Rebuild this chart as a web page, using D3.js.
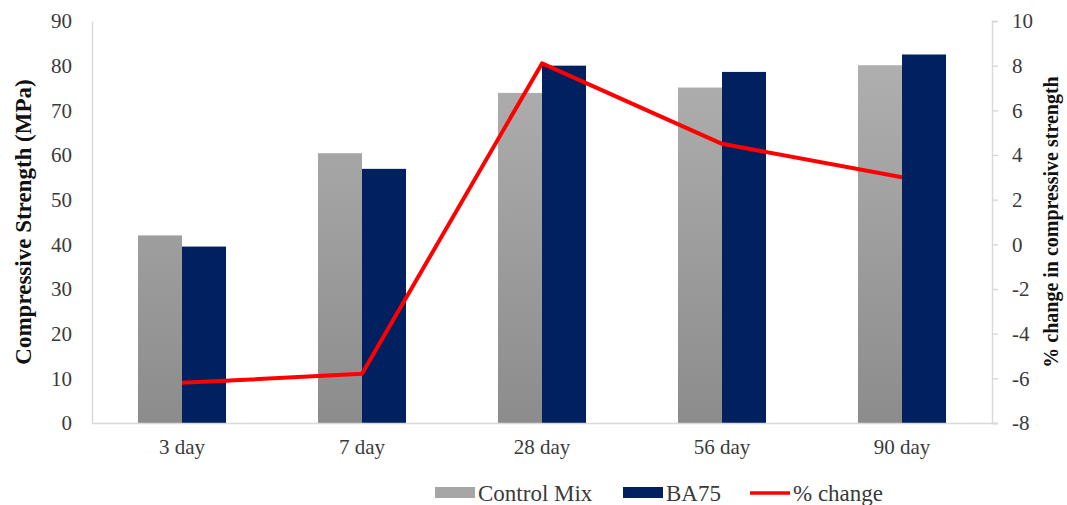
<!DOCTYPE html>
<html>
<head>
<meta charset="utf-8">
<script src="https://cdn.jsdelivr.net/npm/d3@7"></script>
<style>
  html, body { margin: 0; padding: 0; background: #fff; }
  svg { display: block; font-family: "Liberation Serif", "Times New Roman", serif; }
</style>
</head>
<body>
<svg id="chart" width="1067" height="505"></svg>
<script>
// Compressive strength by curing age, with percentage change
const ages = ["3 day", "7 day", "28 day", "56 day", "90 day"];
const controlMix = [42.0, 60.4, 73.9, 75.1, 80.1];
const ba75 = [39.5, 56.9, 80.0, 78.6, 82.5];
const pctChange = [-6.2, -5.8, 8.1, 4.5, 3.0];
const leftTicks = [0, 10, 20, 30, 40, 50, 60, 70, 80, 90];
const rightTicks = [-8, -6, -4, -2, 0, 2, 4, 6, 8, 10];
const seriesNames = ["Control Mix", "BA75", "% change"];

const svg = d3.select("#chart");
const margin = { left: 92, right: 75, top: 21, bottom: 82 };
const W = 1067, H = 505;
const x0 = margin.left, x1 = W - margin.right;
const yTop = margin.top, yBot = H - margin.bottom;

const x = d3.scaleBand().domain(ages).range([x0, x1]).paddingInner(0.511).paddingOuter(0.2555);
const xs = d3.scaleBand().domain(["c", "b"]).range([0, x.bandwidth()]);
const yL = d3.scaleLinear().domain([0, 90]).range([yBot, yTop]);
const yR = d3.scaleLinear().domain([-8, 10]).range([yBot, yTop]);
const xc = d => x(d) + x.bandwidth() / 2;

const defs = svg.append("defs");
const grad = defs.append("linearGradient").attr("id", "grayGrad")
  .attr("x1", 0).attr("y1", 0).attr("x2", 0).attr("y2", 1)
  .attr("gradientUnits", "userSpaceOnUse")
  .attr("y1", yL(90)).attr("y2", yL(0)).attr("x1", 0).attr("x2", 0);
grad.append("stop").attr("offset", "0%").attr("stop-color", "#b3b3b3");
grad.append("stop").attr("offset", "100%").attr("stop-color", "#8c8c8c");

const axisColor = "#d9d9d9";
const textColor = "#3a3a3a";

// Bars
const g = svg.append("g");
g.selectAll("rect.ctrl").data(ages).join("rect").attr("class", "ctrl")
  .attr("x", d => x(d) + xs("c")).attr("width", xs.bandwidth())
  .attr("y", (d, i) => yL(controlMix[i])).attr("height", (d, i) => yL(0) - yL(controlMix[i]))
  .attr("fill", "url(#grayGrad)");
g.selectAll("rect.ba").data(ages).join("rect").attr("class", "ba")
  .attr("x", d => x(d) + xs("b")).attr("width", xs.bandwidth())
  .attr("y", (d, i) => yL(ba75[i])).attr("height", (d, i) => yL(0) - yL(ba75[i]))
  .attr("fill", "#00205f");

// Axes
const leftAxis = d3.axisLeft(yL).tickValues(leftTicks).tickSize(0).tickPadding(20);
const la = svg.append("g").attr("transform", `translate(${x0},0)`).call(leftAxis);
const rightAxis = d3.axisRight(yR).tickValues(rightTicks).tickSize(6).tickPadding(14).tickFormat(d3.format("d"));
const ra = svg.append("g").attr("transform", `translate(${x1},0)`).call(rightAxis);
const bottomAxis = d3.axisBottom(x).tickSize(0).tickPadding(16);
const ba = svg.append("g").attr("transform", `translate(0,${yBot})`).call(bottomAxis);

[la, ra, ba].forEach(a => {
  a.select(".domain").attr("stroke", axisColor).attr("stroke-width", 1.5);
  a.selectAll(".tick line").attr("stroke", axisColor).attr("stroke-width", 1.5);
  a.selectAll(".tick text").attr("font-size", 21).attr("fill", textColor)
    .attr("font-family", "Liberation Serif, Times New Roman, serif");
});
ba.select(".domain").attr("d", `M${x0},0.5H${x1 + 6}`);
ra.selectAll(".tick text").text(d => d < 0 ? "-" + Math.abs(d) : d);

// Percentage change line
const line = d3.line().x((d, i) => xc(ages[i])).y(d => yR(d));
svg.append("path").datum(pctChange).attr("d", line)
  .attr("fill", "none").attr("stroke", "#ff0000").attr("stroke-width", 4)
  .attr("stroke-linejoin", "round");

// Axis titles
svg.append("text").attr("transform", `translate(23,${(yTop + yBot) / 2}) rotate(-90)`)
  .attr("text-anchor", "middle").attr("dy", "0.35em")
  .attr("font-weight", "bold").attr("font-size", 23).attr("fill", "#111")
  .text("Compressive Strength (MPa)");
svg.append("text").attr("transform", `translate(1051,${(yTop + yBot) / 2}) rotate(-90)`)
  .attr("text-anchor", "middle").attr("dy", "0.35em")
  .attr("font-weight", "bold").attr("font-size", 20).attr("fill", "#111")
  .text("% change in compressive strength");

// Legend
const legend = svg.append("g").attr("transform", "translate(0,493)");
const items = [
  { name: seriesNames[0], x: 435, type: "rect", color: "#a6a6a6" },
  { name: seriesNames[1], x: 623, type: "rect", color: "#00205f" },
  { name: seriesNames[2], x: 750, type: "line", color: "#ff0000" }
];
items.forEach(it => {
  if (it.type === "rect") {
    legend.append("rect").attr("x", it.x).attr("y", -6).attr("width", 40).attr("height", 11).attr("fill", it.color);
  } else {
    legend.append("line").attr("x1", it.x).attr("x2", it.x + 40).attr("y1", 0).attr("y2", 0)
      .attr("stroke", it.color).attr("stroke-width", 3.5);
  }
  legend.append("text").attr("x", it.x + 43).attr("y", 0).attr("dy", "0.35em")
    .attr("font-size", 23).attr("fill", textColor).text(it.name);
});
</script>
</body>
</html>
